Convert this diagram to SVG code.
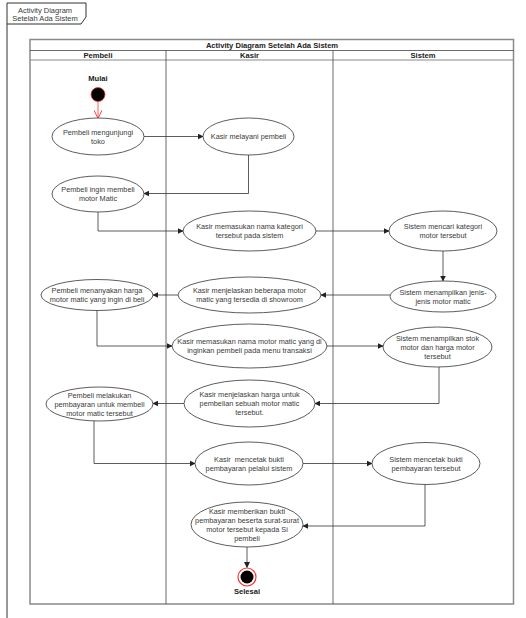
<svg xmlns="http://www.w3.org/2000/svg" width="526" height="618" viewBox="0 0 526 618">
<defs>
<style>
text{font-family:"Liberation Sans",Arial,sans-serif;font-size:7.3px;fill:#3a3a3a;text-anchor:middle}
.b{font-weight:bold;fill:#222;font-size:7.6px}
.node ellipse{fill:#fff;stroke:#333;stroke-width:0.8}
.con path{fill:none;stroke:#333;stroke-width:0.8}
.lane{fill:none;stroke:#444;stroke-width:0.8}
</style>
<marker id="ah" viewBox="0 0 10 10" refX="9" refY="5" markerWidth="6" markerHeight="6" markerUnits="userSpaceOnUse" orient="auto">
<path d="M0,0 L10,5 L0,10 Z" fill="#222"/>
</marker>
<marker id="ahr" viewBox="0 0 10 10" refX="9" refY="5" markerWidth="8" markerHeight="8" markerUnits="userSpaceOnUse" orient="auto">
<path d="M0,0 L10,5 L0,10" fill="none" stroke="#ff3333" stroke-width="1.2"/>
</marker>
</defs>
<rect width="526" height="618" fill="#fff"/>
<g id="frame">
<path d="M7,618 V3 H86 V17 L81,24 H7" fill="none" stroke="#333" stroke-width="1"/>
<text x="45" y="12.5" style="font-size:7.5px">Activity Diagram</text>
<text x="45" y="20.5" style="font-size:7.5px">Setelah Ada Sistem</text>
</g>
<g id="pool">
<rect x="30" y="39.5" width="483.5" height="564.5" fill="none" stroke="#8a8a8a" stroke-width="1.5"/>
<line x1="30" y1="50.5" x2="513.5" y2="50.5" class="lane"/>
<line x1="30" y1="60" x2="513.5" y2="60" stroke="#8a8a8a" stroke-width="1"/>
<line x1="166" y1="50.5" x2="166" y2="604" class="lane"/>
<line x1="333" y1="50.5" x2="333" y2="604" class="lane"/>
<text x="272" y="47.8" class="b">Activity Diagram Setelah Ada Sistem</text>
<text x="98" y="57.8" class="b">Pembeli</text>
<text x="249.5" y="57.8" class="b">Kasir</text>
<text x="423" y="57.8" class="b">Sistem</text>
</g>
<g class="con" id="connectors">
<path d="M98,101.5 V117.5" style="stroke:#ff3333" marker-end="url(#ahr)"/>
<path d="M144,136.5 H203" marker-end="url(#ah)"/>
<path d="M248.5,155 V193.5 H144" marker-end="url(#ah)"/>
<path d="M98,212 V231 H183" marker-end="url(#ah)"/>
<path d="M316,231 H389" marker-end="url(#ah)"/>
<path d="M443,251 V281" marker-end="url(#ah)"/>
<path d="M390,295 H321" marker-end="url(#ah)"/>
<path d="M178,295 H153" marker-end="url(#ah)"/>
<path d="M97,310 V346 H172" marker-end="url(#ah)"/>
<path d="M327,346 H383" marker-end="url(#ah)"/>
<path d="M439,367 V403.5 H315" marker-end="url(#ah)"/>
<path d="M184,403.5 H153" marker-end="url(#ah)"/>
<path d="M94,421 V463.5 H195" marker-end="url(#ah)"/>
<path d="M303,463.5 H372" marker-end="url(#ah)"/>
<path d="M425,484.5 V526 H303" marker-end="url(#ah)"/>
<path d="M247,547 V567.5" marker-end="url(#ah)"/>
</g>
<g id="start">
<text x="98" y="80.5" class="b">Mulai</text>
<circle cx="98" cy="94.5" r="7" fill="#000" stroke="#ff3333" stroke-width="0.8"/>
</g>
<g class="node" id="n1"><ellipse cx="98" cy="136.5" rx="46" ry="18.5"/>
<text x="98" y="134.8">Pembeli mengunjungi</text><text x="98" y="143.8">toko</text></g>
<g class="node" id="n2"><ellipse cx="248.5" cy="136.5" rx="45.5" ry="18.5"/>
<text x="248.5" y="139.3">Kasir melayani pembeli</text></g>
<g class="node" id="n3"><ellipse cx="98" cy="194" rx="46" ry="18"/>
<text x="98" y="192.3">Pembeli ingin membeli</text><text x="98" y="201.3">motor Matic</text></g>
<g class="node" id="n4"><ellipse cx="249.5" cy="231" rx="66.5" ry="20"/>
<text x="249.5" y="229.3">Kasir memasukan nama kategori</text><text x="249.5" y="238.3">tersebut pada sistem</text></g>
<g class="node" id="n5"><ellipse cx="443" cy="231" rx="54" ry="20"/>
<text x="443" y="229.3">Sistem mencari kategori</text><text x="443" y="238.3">motor tersebut</text></g>
<g class="node" id="n6"><ellipse cx="443" cy="296.5" rx="53" ry="15.5"/>
<text x="443" y="294.8">Sistem menampilkan jenis-</text><text x="443" y="303.8">jenis motor matic</text></g>
<g class="node" id="n7"><ellipse cx="249.5" cy="295" rx="71.5" ry="18"/>
<text x="249.5" y="293.3">Kasir menjelaskan beberapa motor</text><text x="249.5" y="302.3">matic yang tersedia di showroom</text></g>
<g class="node" id="n8"><ellipse cx="97" cy="295" rx="56" ry="15.5"/>
<text x="97" y="293.3">Pembeli menanyakan harga</text><text x="97" y="302.3">motor matic yang ingin di beli</text></g>
<g class="node" id="n9"><ellipse cx="249.5" cy="346" rx="77.5" ry="22"/>
<text x="249.5" y="344.3">Kasir memasukan nama motor matic yang di</text><text x="249.5" y="353.3">inginkan pembeli pada menu transaksi</text></g>
<g class="node" id="n10"><ellipse cx="437.5" cy="347" rx="54.5" ry="20"/>
<text x="437.5" y="340.8">Sistem menampilkan stok</text><text x="437.5" y="349.8">motor dan harga motor</text><text x="437.5" y="358.8">tersebut</text></g>
<g class="node" id="n11"><ellipse cx="249.5" cy="403.5" rx="65.5" ry="23.5"/>
<text x="249.5" y="397.3">Kasir menjelaskan harga untuk</text><text x="249.5" y="406.3">pembelian sebuah motor matic</text><text x="249.5" y="415.3">tersebut.</text></g>
<g class="node" id="n12"><ellipse cx="99.5" cy="404" rx="53.5" ry="17"/>
<text x="99.5" y="397.8">Pembeli melakukan</text><text x="99.5" y="406.8">pembayaran untuk membeli</text><text x="99.5" y="415.8">motor matic tersebut</text></g>
<g class="node" id="n13"><ellipse cx="249" cy="463.5" rx="54" ry="21.5"/>
<text x="249" y="461.8" xml:space="preserve">Kasir  mencetak bukti</text><text x="249" y="470.8">pembayaran pelalui sistem</text></g>
<g class="node" id="n14"><ellipse cx="426" cy="463.5" rx="54" ry="21"/>
<text x="426" y="461.8">Sistem mencetak bukti</text><text x="426" y="470.8">pembayaran tersebut</text></g>
<g class="node" id="n15"><ellipse cx="247" cy="524.5" rx="56" ry="22.5"/>
<text x="247" y="513.8">Kasir memberikan bukti</text><text x="247" y="522.8">pembayaran beserta surat-surat</text><text x="247" y="531.8">motor tersebut kepada Si</text><text x="247" y="540.8">pembeli</text></g>
<g id="end">
<circle cx="247" cy="577" r="9" fill="#fff" stroke="#ff3333" stroke-width="1.2"/>
<circle cx="247" cy="577" r="6.5" fill="#000"/>
<text x="247" y="594" class="b">Selesai</text>
</g>
</svg>
